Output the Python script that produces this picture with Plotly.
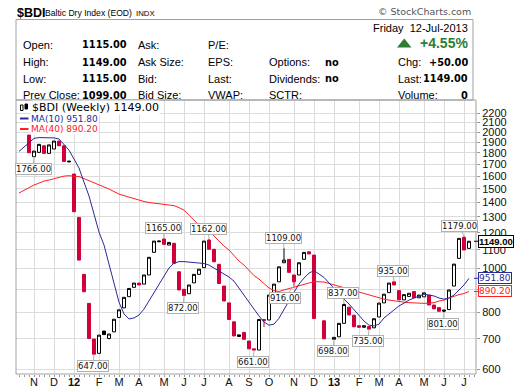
import math
import pandas as pd
import plotly.graph_objects as go

# ---------------- data ----------------
# weekly bars, dated by the first day of each week; the first two weeks only carry MA values
weeks = pd.date_range("2011-10-17", periods=91, freq="7D")

opens = [1971, 1766, 1805, 1867, 1796, 1836, 1912, 1867, 1727, 1617,
         1297, 971, 838, 699, 650, 728, 701, 725, 780, 819,
         867, 909, 929, 924, 968, 1086, 1146, 1162, 1127, 1137,
         984, 900, 880, 930, 971, 1005, 1156, 1103, 1022, 915,
         840, 763, 708, 723, 692, 665, 661, 772, 770, 883,
         935, 1030, 1048, 968, 968, 1048, 1089, 1071, None, 767,
         None, 698, 707, 757, 822, 789, 748, 742, 745, 740,
         782, 840, 885, 935, 894, 853, 868, 890, 862, 866,
         874, 831, 820, 810, 812, 915, 1053, 1172, 1108]
highs = [1971, 1817, 1880, 1867, 1875, 1912, 1912, 1867, 1727, 1617,
         1297, 971, 838, 699, 713, 728, 717, 773, 811, 864,
         904, 929, 929, 968, 1059, 1150, 1150, 1165, 1142, 1137,
         984, 900, 920, 971, 997, 1150, 1162, 1103, 1022, 915,
         840, 763, 714, 723, 692, 665, 772, 772, 874, 924,
         1009, 1109, 1048, 968, 1030, 1086, 1089, 1071, None, 767,
         None, 705, 757, 837, 822, 789, 748, 748, 745, 775,
         839, 878, 929, 935, 894, 876, 882, 890, 874, 884,
         874, 831, 820, 810, 897, 1023, 1166, 1179, 1149]
lows = [1802, 1766, 1805, 1796, 1796, 1836, 1867, 1724, 1721, 1335,
        1044, 889, 701, 647, 650, 715, 698, 725, 780, 819,
        867, 909, 920, 924, 968, 1086, 1146, 1131, 1127, 1027,
        897, 872, 880, 930, 971, 1005, 1103, 1035, 927, 848,
        772, 710, 708, 698, 665, 661, 661, 743, 770, 883,
        935, 1030, 981, 916, 968, 1048, 1077, 776, None, 700,
        None, 698, 707, 757, 790, 744, 742, 742, 735, 740,
        782, 840, 885, 920, 853, 853, 868, 862, 862, 866,
        831, 815, 805, 801, 812, 915, 1053, 1099, 1108]
closes = [1802, 1817, 1880, 1796, 1875, 1912, 1867, 1724, 1721, 1335,
          1044, 889, 701, 647, 713, 715, 717, 773, 811, 864,
          904, 929, 920, 968, 1059, 1150, 1150, 1131, 1142, 1027,
          897, 872, 920, 971, 997, 1150, 1103, 1035, 927, 848,
          772, 710, 714, 698, 665, 661, 772, 768, 874, 924,
          1009, 1044, 981, 935, 1030, 1086, 1077, 776, None, 700,
          None, 705, 757, 833, 790, 744, 742, 748, 735, 775,
          839, 878, 929, 920, 853, 876, 882, 862, 874, 884,
          831, 815, 805, 806, 897, 1023, 1166, 1099, 1149]
filled_black_bars = [8, 15, 83]

ma10 = [1814, 1855,
        1896, 1938, 1946, 1946, 1946, 1943, 1932, 1883, 1826, 1745,
        1667, 1552, 1446, 1319, 1204, 1127, 1018, 920, 843, 794,
        774, 778, 790, 814, 848, 883, 924, 963, 1003, 1028,
        1036, 1036, 1034, 1031, 1028, 1026, 1018, 1003, 987, 972,
        958, 938, 906, 878, 843, 814, 786, 762, 750, 754,
        777, 814, 848, 887, 924, 953, 977, 990, None, 956,
        None, 903, 880, 856, 835, 810, 786, 766, 750, 747,
        754, 778, 794, 810, 827, 839, 852, 861, 870, 878,
        874, 870, 861, 856, 861, 874, 897, 920, 951.8]
ma40 = [1468, 1490,
        1506, 1529, 1544, 1560, 1568, 1580, 1592, 1600, 1603, 1600,
        1596, 1580, 1564, 1548, 1529, 1513, 1498, 1479, 1460, 1449,
        1438, 1427, 1413, 1406, 1399, 1395, 1393, 1388, 1384, 1377,
        1363, 1346, 1312, 1280, 1247, 1229, 1216, 1180, 1147, 1121,
        1099, 1068, 1039, 1018, 992, 965, 948, 929, 906, 894,
        890, 897, 903, 910, 917, 924, 931, 936, None, 934,
        None, 920, 913, 906, 901, 894, 887, 881, 874, 867,
        861, 856, 852, 848, 846, 843, 841, 839, 838, 838,
        839, 841, 848, 852, 861, 870, 876, 881, 890.2]

y_ticks = list(range(600, 2300, 100))
y_hidden_labels = [900]          # covered by the MA(40) value tag in the original
month_tick_bars = [1, 5, 9, 14, 18, 22, 27, 31, 35, 40, 44, 48, 53, 57, 61, 66, 70, 74, 79, 83, 87]
month_labels = ["N", "D", "<b>12</b>", "F", "M", "A", "M", "J", "J", "A", "S", "O",
                "N", "D", "<b>13</b>", "F", "M", "A", "M", "J", "J"]

label_bars = [1, 13, 27, 31, 36, 45, 51, 53, 61, 63, 68, 73, 83, 87]
label_values = [1766, 647, 1165, 872, 1162, 661, 1109, 916, 698, 837, 735, 935, 801, 1179]

last_close = 1149.00
last_ma10 = 951.80
last_ma40 = 890.20

quote_left_labels = ["Open:", "High:", "Low:", "Prev Close:"]
quote_left_values = ["1115.00", "1149.00", "1115.00", "1099.00"]
quote_col3 = ["Ask:", "Ask Size:", "Bid:", "Bid Size:"]
quote_col4 = ["P/E:", "EPS:", "Last:", "VWAP:"]
quote_col5 = ["", "Options:", "Dividends:", "SCTR:"]
quote_col6 = ["", "no", "no", ""]
quote_col7 = ["", "Chg:", "Last:", "Volume:"]
quote_col8 = ["", "+50.00", "1149.00", "0"]
quote_date = "Friday&nbsp; 12-Jul-2013"
quote_pct = "+4.55%"

# ---------------- styling ----------------
W, H = 520, 391
L, R, T, B = 16, 476, 100, 374
RED = "#d2003a"
NAVY = "#2a2a99"
MARED = "#ff2020"
GREEN = "#2e7d32"
GRID = "#dcdcdc"
ARIAL = "Liberation Sans"
VERD = "DejaVu Sans"


def px(x):
    return (x - L) / (R - L)


def py(y):
    return (B - y) / (B - T)


bar_dates = weeks[2:]
normal = [i for i in range(len(opens)) if opens[i] is not None and i not in filled_black_bars]

fig = go.Figure()
fig.add_trace(go.Scatter(x=weeks, y=ma40, mode="lines", line=dict(color=MARED, width=1),
                         connectgaps=True, hoverinfo="skip"))
fig.add_trace(go.Scatter(x=weeks, y=ma10, mode="lines", line=dict(color=NAVY, width=1),
                         connectgaps=True, hoverinfo="skip"))
fig.add_trace(go.Candlestick(
    x=[bar_dates[i] for i in normal],
    open=[opens[i] for i in normal], high=[highs[i] for i in normal],
    low=[lows[i] for i in normal], close=[closes[i] for i in normal],
    increasing=dict(line=dict(color="black", width=1), fillcolor="white"),
    decreasing=dict(line=dict(color=RED, width=1), fillcolor=RED),
    whiskerwidth=0))
fig.add_trace(go.Candlestick(
    x=[bar_dates[i] for i in filled_black_bars],
    open=[opens[i] for i in filled_black_bars], high=[highs[i] for i in filled_black_bars],
    low=[lows[i] for i in filled_black_bars], close=[closes[i] for i in filled_black_bars],
    increasing=dict(line=dict(color="black", width=1), fillcolor="black"),
    decreasing=dict(line=dict(color="black", width=1), fillcolor="black"),
    whiskerwidth=0))

ann = []


def text(s, x, y, anchor="left", size=11, color="#000", family=ARIAL, bg=None):
    d = dict(text=s, x=px(x), y=py(y), xref="paper", yref="paper", showarrow=False,
             xanchor=anchor, yanchor="middle", font=dict(size=size, color=color, family=family))
    if bg:
        d.update(bgcolor=bg, borderpad=0)
    ann.append(d)


# header
text("<b>$BDI</b>", 15, 13, size=12.5)
text("Baltic Dry Index (EOD)", 43, 13.5, size=8.6)
text("INDX", 134, 13.5, size=7.8)
text("\u00a9 StockCharts.com", 473, 11.5, anchor="right", size=9.5, color="#555", family=VERD)

rows = [45, 62, 78.7, 95.3]
for k, yy in enumerate(rows):
    text(quote_left_labels[k], 20.5, yy)
    text("<b>" + quote_left_values[k] + "</b>", 128.5, yy, anchor="right", size=9.8, family=VERD)
    text(quote_col3[k], 135.5, yy)
    text(quote_col4[k], 206, yy)
    if quote_col5[k]:
        text(quote_col5[k], 267, yy)
    if quote_col6[k]:
        text("<b>" + quote_col6[k] + "</b>", 323, yy, size=9.8, family=VERD)
    if quote_col7[k]:
        text(quote_col7[k], 396, yy)
        text("<b>" + quote_col8[k] + "</b>", 470, yy, anchor="right", size=9.8, family=VERD)
text(quote_date, 470, 28.3, anchor="right")
text("<b>" + quote_pct + "</b>", 470, 43.5, anchor="right", size=14, color=GREEN)

# legend inside chart
text("$BDI (Weekly) %.2f" % last_close, 31, 107.7, size=11, family=VERD, bg="white")
text("MA(10) %.2f" % last_ma10, 29.5, 118.5, size=9, color=NAVY, family=VERD, bg="white")
text("MA(40) %.2f" % last_ma40, 29.5, 129, size=9, color=MARED, family=VERD, bg="white")

# price labels for highs / lows
nudge = {916: -9.5, 1179: -4.7}
for w, v in zip(label_bars, label_values):
    is_high = (v == highs[w])
    ann.append(dict(x=bar_dates[w], y=math.log10(v), xref="x", yref="y",
                    text="%.2f" % v, showarrow=True, arrowhead=0, arrowwidth=1,
                    arrowcolor="#b0b0b0", standoff=0,
                    ax=nudge.get(v, -1), ay=(-10.5 if is_high else 12),
                    font=dict(size=8.5, family=VERD, color="#111"),
                    bgcolor="white", bordercolor="#b0b0b0", borderwidth=1, borderpad=0))

# right-hand value tags
for v, col, bold in [(last_close, "black", True), (last_ma10, NAVY, False), (last_ma40, MARED, False)]:
    s = "%.2f" % v
    ann.append(dict(x=px(474), y=math.log10(v), xref="paper", yref="y",
                    text=("<b>%s</b>" % s) if bold else s, showarrow=True, arrowhead=0,
                    arrowwidth=1, arrowcolor=col, standoff=0, ax=4, ay=0,
                    xanchor="left", yanchor="middle",
                    font=dict(size=9.5 if bold else 9, family=ARIAL if bold else VERD, color=col),
                    bgcolor="white", bordercolor=col, borderwidth=1, borderpad=0))

shapes = [
    dict(type="rect", xref="paper", yref="paper", x0=px(16), x1=px(473), y0=py(100), y1=py(19.5),
         line=dict(color="#a0a0a0", width=1)),
    dict(type="rect", xref="paper", yref="paper", x0=0, x1=1, y0=0, y1=1,
         line=dict(color="#a0a0a0", width=1)),
    # up triangle
    dict(type="path", xref="paper", yref="paper",
         path="M %f,%f L %f,%f L %f,%f Z" % (px(397), py(47.5), px(411.5), py(47.5), px(404.2), py(38.5)),
         fillcolor=GREEN, line=dict(color=GREEN, width=0)),
    # legend line keys
    dict(type="line", xref="paper", yref="paper", x0=px(20), x1=px(28.5), y0=py(118.5), y1=py(118.5),
         line=dict(color=NAVY, width=2)),
    dict(type="line", xref="paper", yref="paper", x0=px(20), x1=px(28.5), y0=py(129), y1=py(129),
         line=dict(color=MARED, width=2)),
    # tiny candle icon
    dict(type="rect", xref="paper", yref="paper", x0=px(20.5), x1=px(23), y0=py(110.5), y1=py(105),
         fillcolor="white", line=dict(color="black", width=1)),
    dict(type="rect", xref="paper", yref="paper", x0=px(25), x1=px(27.5), y0=py(109), y1=py(104),
         fillcolor="black", line=dict(color="black", width=1)),
]

fig.update_layout(
    template="none",
    width=W, height=H,
    margin=dict(l=L, r=W - R, t=T, b=H - B, pad=0),
    paper_bgcolor="white", plot_bgcolor="white",
    showlegend=False,
    boxgap=0.15,
    font=dict(family=ARIAL, size=11, color="#000"),
    annotations=ann, shapes=shapes,
    xaxis=dict(
        type="date", range=["2011-10-12 19:12", "2013-07-17 19:12"],
        rangeslider=dict(visible=False),
        tickmode="array", tickvals=[bar_dates[i] for i in month_tick_bars], ticktext=month_labels,
        showgrid=True, gridcolor=GRID, gridwidth=1, zeroline=False, showline=False,
        ticks="", tickfont=dict(size=11, family=ARIAL, color="#111"),
        minor=dict(ticks="outside", ticklen=2, tickcolor="#999", dtick=7 * 86400000,
                   tick0="2011-10-31", showgrid=False),
        automargin=False, fixedrange=True,
    ),
    yaxis=dict(
        type="log", side="right", range=[math.log10(585.2), math.log10(2355.6)],
        tickmode="array", tickvals=y_ticks,
        ticktext=["" if v in y_hidden_labels else str(v) for v in y_ticks],
        showgrid=True, gridcolor=GRID, gridwidth=1, zeroline=False, showline=False,
        ticks="outside", ticklen=3, tickcolor="#999",
        tickfont=dict(size=11, family=ARIAL, color="#111"),
        automargin=False, fixedrange=True,
    ),
)

fig.write_html("out.html", config={"displayModeBar": False, "staticPlot": True},
               post_script="document.body.style.margin='0px';document.body.style.padding='0px';"
                           "document.documentElement.style.overflow='hidden';")
